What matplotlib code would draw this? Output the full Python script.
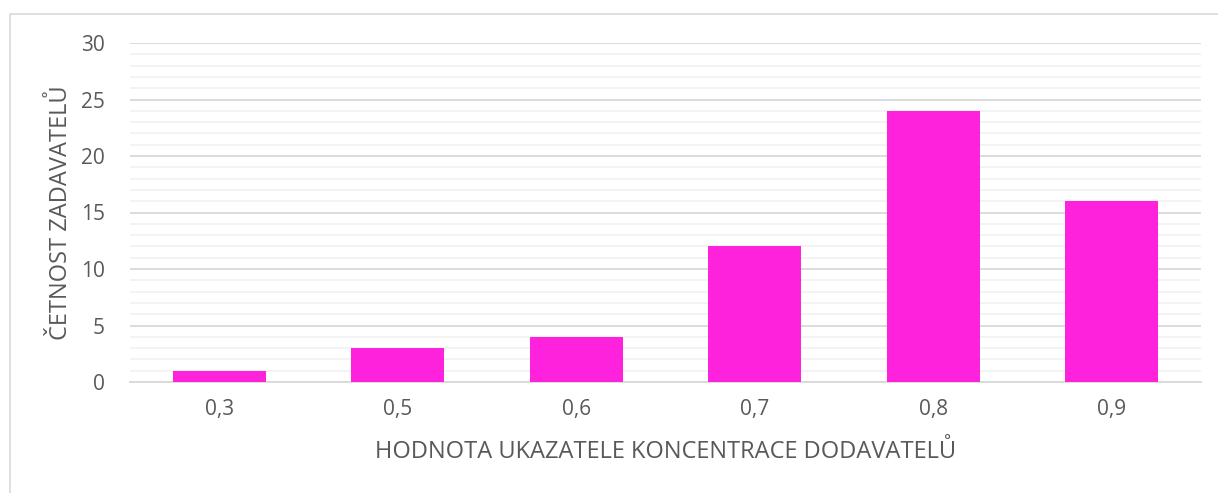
import matplotlib
matplotlib.use("Agg")
import matplotlib.pyplot as plt
from matplotlib.patches import Rectangle
from matplotlib.ticker import MultipleLocator

categories = ["0,3", "0,5", "0,6", "0,7", "0,8", "0,9"]
counts = [1, 3, 4, 12, 24, 16]
y_ticks = [0, 5, 10, 15, 20, 25, 30]
x_label = "HODNOTA UKAZATELE KONCENTRACE DODAVATELŮ"
y_label = "ČETNOST ZADAVATELŮ"

plt.rcParams['font.family'] = ['Open Sans', 'DejaVu Sans']
text_color = "#595959"

W, H = 1218, 493
fig = plt.figure(figsize=(W/100, H/100), dpi=100)
fig.patches.append(Rectangle((9.5/W, -0.2), 1.2, 1.2 - 13.5/H, transform=fig.transFigure,
                             fill=False, edgecolor="#d9d9d9", linewidth=1.2))

ax = fig.add_axes([130/W, 1 - 382/H, (1201-130)/W, (382-43)/H])
x = range(len(categories))
ax.bar(x, counts, width=0.52, color="#FF22DD", zorder=3)
ax.set_xlim(-0.5, len(categories) - 0.5)
ax.set_ylim(0, 30)
ax.set_yticks(y_ticks)
ax.yaxis.set_minor_locator(MultipleLocator(1))
ax.set_xticks(list(x))
ax.set_xticklabels(categories)
ax.grid(axis='y', which='major', color="#d9d9d9", linewidth=1.3, zorder=0)
ax.grid(axis='y', which='minor', color="#f2f2f2", linewidth=1.3, zorder=0)
for s in ["top", "right", "left"]:
    ax.spines[s].set_visible(False)
ax.spines["bottom"].set_color("#d9d9d9")
ax.spines["bottom"].set_linewidth(1.3)
ax.tick_params(axis='both', which='both', length=0, colors=text_color, labelsize=15)
ax.tick_params(axis='y', pad=18)
ax.tick_params(axis='x', pad=12)
ax.set_xlabel(x_label, color=text_color, fontsize=17, labelpad=15)
ax.set_ylabel(y_label, color=text_color, fontsize=17, labelpad=6)

fig.savefig("out.png", dpi=100)
